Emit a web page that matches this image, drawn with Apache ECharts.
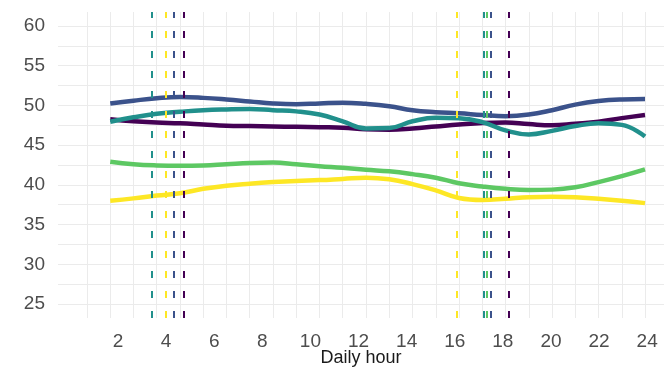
<!DOCTYPE html>
<html>
<head>
<meta charset="utf-8">
<title>Daily hour</title>
<script src="https://cdn.jsdelivr.net/npm/echarts@6/dist/echarts.min.js"></script>
<style>
  html, body { margin: 0; padding: 0; background: #ffffff; }
  #chart { width: 664px; height: 371px; }
</style>
</head>
<body>
<div id="chart"></div>
<script>
// Hourly smoothed values, one array per group
const hours = [1, 2, 3, 4, 5, 6, 7, 8, 9, 10, 11, 12, 13, 14, 15, 16, 17, 18, 19, 20, 21, 22, 23, 24];
const groupPurple = [48.25, 48.0, 47.85, 47.75, 47.6, 47.45, 47.4, 47.35, 47.3, 47.25, 47.2, 47.0, 46.95, 47.1, 47.35, 47.6, 47.8, 47.85, 47.65, 47.5, 47.7, 47.95, 48.4, 48.8];
const groupBlue   = [50.25, 50.6, 50.9, 51.05, 50.95, 50.75, 50.5, 50.25, 50.15, 50.25, 50.35, 50.2, 49.9, 49.4, 49.15, 49.0, 48.8, 48.65, 48.85, 49.4, 50.1, 50.55, 50.75, 50.8];
const groupTeal   = [47.95, 48.5, 48.95, 49.2, 49.4, 49.5, 49.55, 49.4, 49.25, 48.85, 48.0, 47.1, 47.15, 48.0, 48.45, 48.4, 47.9, 46.85, 46.35, 46.8, 47.4, 47.75, 47.55, 46.1];
const groupGreen  = [42.9, 42.6, 42.45, 42.4, 42.45, 42.6, 42.75, 42.8, 42.6, 42.35, 42.15, 41.9, 41.7, 41.35, 40.9, 40.2, 39.8, 39.5, 39.35, 39.4, 39.7, 40.35, 41.1, 41.95];
const groupYellow = [38.0, 38.3, 38.65, 38.95, 39.5, 39.9, 40.15, 40.35, 40.5, 40.6, 40.75, 40.9, 40.7, 40.1, 39.3, 38.35, 38.1, 38.25, 38.45, 38.5, 38.45, 38.25, 38.0, 37.7];

// Morning and evening reference hours per group (purple, blue, teal, green, yellow)
const morningHour = [4.14, 3.75, 2.78, 3.40, 3.40];
const eveningHour = [18.15, 17.35, 17.07, 17.20, 15.90];

// Tick labels
const xTickLabels = [2, 4, 6, 8, 10, 12, 14, 16, 18, 20, 22, 24];
const yTickLabels = [25, 30, 35, 40, 45, 50, 55, 60];
const xGridHours = [0, 1, 2, 3, 4, 5, 6, 7, 8, 9, 10, 11, 12, 13, 14, 15, 16, 17, 18, 19, 20, 21, 22, 23, 24];
const yGridValues = [25, 27.5, 30, 32.5, 35, 37.5, 40, 42.5, 45, 47.5, 50, 52.5, 55, 57.5, 60];

const palette = ['#440154', '#3B528B', '#21908C', '#5DC863', '#FDE725'];
const groups = [groupPurple, groupBlue, groupTeal, groupGreen, groupYellow];

const FONT = "'Liberation Sans', Arial, sans-serif";

const series = groups.map(function (vals, i) {
  return {
    type: 'line',
    xAxisIndex: 0,
    yAxisIndex: 0,
    data: hours.map(function (h, k) { return [h, vals[k]]; }),
    smooth: 0.45,
    showSymbol: false,
    symbol: 'none',
    lineStyle: { color: palette[i], width: 4.5, cap: 'butt' },
    z: 2,
    markLine: {
      silent: true,
      symbol: ['none', 'none'],
      animation: false,
      label: { show: false },
      lineStyle: { color: palette[i], width: 2, type: [7, 13], opacity: 1 },
      emphasis: { disabled: true },
      data: [{ xAxis: morningHour[i] }, { xAxis: eveningHour[i] }]
    }
  };
});

const chart = echarts.init(document.getElementById('chart'), null, { renderer: 'canvas' });
chart.setOption({
  animation: false,
  backgroundColor: '#ffffff',
  grid: { left: 58, right: 0, top: 12, bottom: 53, containLabel: false, outerBoundsMode: 'none' },
  xAxis: [
    {
      // plotting scale, carries the vertical grid
      type: 'value',
      min: -1.247,
      max: 24.817,
      axisLine: { show: false },
      axisTick: { show: false, customValues: xGridHours },
      axisLabel: { show: false },
      splitLine: { show: true, lineStyle: { color: '#ebebeb', width: 1 } }
    },
    {
      // hour labels
      type: 'value',
      position: 'bottom',
      min: -0.495,
      max: 24.70,
      axisLine: { show: false },
      axisTick: { show: false },
      splitLine: { show: false },
      axisLabel: {
        show: true,
        customValues: xTickLabels,
        color: '#4d4d4d',
        fontSize: 19,
        fontFamily: FONT,
        margin: 14
      },
      name: 'Daily hour',
      nameLocation: 'middle',
      nameGap: 31,
      nameMoveOverlap: false,
      nameTextStyle: { color: '#1a1a1a', fontSize: 18, fontFamily: FONT }
    }
  ],
  yAxis: {
    type: 'value',
    min: 23.24,
    max: 61.76,
    axisLine: { show: false },
    axisTick: { show: false, customValues: yGridValues },
    axisLabel: {
      customValues: yTickLabels,
      color: '#4d4d4d',
      fontSize: 19,
      fontFamily: FONT,
      margin: 13
    },
    splitLine: { show: true, lineStyle: { color: '#ebebeb', width: 1 } }
  },
  series: series
});
</script>
</body>
</html>
